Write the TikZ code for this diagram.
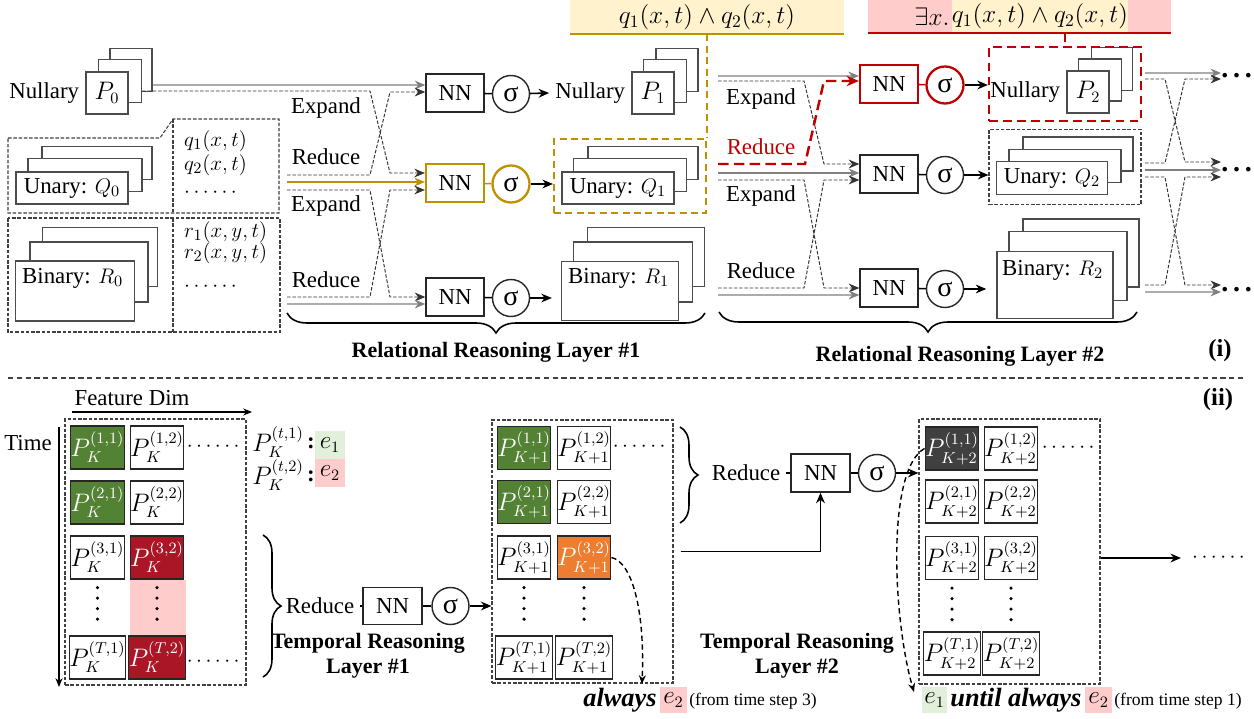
\documentclass[tikz,border=0pt]{standalone}
\usepackage{amsmath,amssymb}
\usepackage{fontspec}
\setmainfont{Liberation Serif}
\usepackage{tikz}
\usetikzlibrary{arrows.meta,decorations.pathreplacing,shapes}
\DeclareMathSizes{15}{15}{9.5}{7}
\definecolor{goldc}{RGB}{191,144,0}
\definecolor{yellowbg}{RGB}{255,242,204}
\definecolor{redc}{RGB}{192,0,0}
\definecolor{pinkbg}{RGB}{255,204,204}
\definecolor{greenc}{RGB}{84,130,53}
\definecolor{greenbg}{RGB}{226,239,218}
\definecolor{darkred}{RGB}{170,22,38}
\definecolor{orangec}{RGB}{237,125,49}
\definecolor{darkgrayc}{RGB}{64,64,64}

\begin{document}
\begin{tikzpicture}[x=0.02cm,y=-0.02cm,font=\fontsize{13}{15}\selectfont,
  sz/.style 2 args={minimum width=#1*0.02cm,minimum height=#2*0.02cm}]
  \tikzstyle{stk}   =[draw=black!70,fill=white,line width=0.8pt,inner sep=0pt]
  \tikzstyle{nn}    =[draw=black!85,line width=0.8pt,inner sep=0pt,sz={58}{38}]
  \tikzstyle{sig}   =[draw=black!85,circle,line width=0.8pt,sz={37}{37},inner sep=0pt,font=\fontsize{16}{16}\selectfont]
  \tikzstyle{frame} =[draw=black!75,line width=0.6pt,dash pattern=on 2pt off 1pt]
  \tikzstyle{sline} =[draw=black!50,line width=0.7pt,-{Stealth[length=6pt,width=5pt]}]
  \tikzstyle{dline} =[draw=black!80,line width=0.55pt,dash pattern=on 2pt off 1pt,-{Stealth[length=6pt,width=5pt]}]
  \tikzstyle{link}  =[draw=black,line width=0.9pt]
  \tikzstyle{arr}   =[draw=black,line width=0.9pt,-{Stealth[length=6pt,width=5pt]}]
  \tikzstyle{brc}   =[draw=black,line width=0.9pt,decorate,decoration={brace,amplitude=0.4cm}]
  \tikzstyle{cell}  =[draw=black!85,line width=0.7pt,sz={50}{43},inner sep=0pt,font=\fontsize{15}{15}\selectfont]
  \tikzstyle{vdot}  =[line width=2pt,line cap=round,dash pattern=on 0pt off 6pt,shorten <=0.16cm,shorten >=0.12cm]
  \tikzstyle{ttl}   =[font=\fontsize{12.5}{14.2}\selectfont\bfseries,align=center]
  \tikzstyle{dcurve}=[draw=black,line width=0.8pt,dash pattern=on 3pt off 2pt,-{Stealth[length=5pt,width=4pt]}]
  \tikzstyle{bi}    =[anchor=west,inner sep=0pt,font=\fontsize{15}{15}\selectfont\bfseries\itshape]
  \tikzstyle{more}  =[anchor=west,inner sep=0pt,font=\fontsize{16}{16}\selectfont\bfseries]
  \tikzstyle{big}   =[font=\fontsize{15}{15}\selectfont]
  \tikzstyle{note}  =[inner sep=0pt,font=\fontsize{14}{15}\selectfont]
  \useasboundingbox (0,0) rectangle (1254,719);

  % (i) relational reasoning, layer-1 inputs
  \node[stk,sz={42}{43}] (P0c) at (131,70) {};
  \node[stk,sz={43}{43}] (P0b) at (120,81) {};
  \node[stk,sz={42}{42},big] (P0) at (107,93) {$P_0$};
  \node[anchor=east] (N0) at (P0.west) {Nullary};
  \node[stk,sz={110}{33}] (Q0c) at (97,163) {};
  \node[stk,sz={114}{33}] (Q0b) at (85,175) {};
  \node[stk,sz={112}{32}] (Q0) at (72,188) {Unary: $Q_0$};
  \node[stk,sz={115}{59}] (R0c) at (100,257) {};
  \node[stk,sz={118}{60}] (R0b) at (89,272) {};
  \node[stk,sz={119}{60}] (R0) at (75,291) {};
  \node[anchor=west] (R0t) at (16,278) {Binary: $R_0$};
  \draw[frame] (8,138) -- (160,138) -- (173,119) -- (279,119) -- (279,213) -- (8,213) -- cycle;
  \draw[frame] (173,119) -- (173,213);
  \draw[frame] (8,218) rectangle (280,332);
  \draw[frame] (173,218) -- (173,332);
  \node[anchor=west] (q1) at (178,141) {$q_1(x,t)$};
  \node[anchor=west] (q2) at (178,165) {$q_2(x,t)$};
  \node[anchor=west] (qd) at (178,193) {$\cdots\cdots$};
  \node[anchor=west] (r1) at (178,232) {$r_1(x,y,t)$};
  \node[anchor=west] (r2) at (178,253) {$r_2(x,y,t)$};
  \node[anchor=west] (rd) at (178,287) {$\cdots\cdots$};

  % layer 1
  \node[nn] (NN1a) at (455,93) {NN};
  \node[sig] (S1a) at (511,94) {σ};
  \node[nn,draw=goldc,line width=1.3pt] (NN1b) at (455,183) {NN};
  \node[sig,draw=goldc,line width=1.3pt] (S1b) at (511,184) {σ};
  \node[nn] (NN1c) at (455,297) {NN};
  \node[sig] (S1c) at (511,298) {σ};
  \draw[link] (NN1a) -- (S1a);
  \draw[link,draw=goldc] (NN1b) -- (S1b);
  \draw[link] (NN1c) -- (S1c);
  \node (ex1) at (326,108) {Expand};
  \node (re1) at (326,157) {Reduce};
  \node (ex2) at (326,206) {Expand};
  \node (re2) at (326,280) {Reduce};
  \coordinate (c1) at (287,175);
  \coordinate (c2) at (287,182);
  \coordinate (c3) at (287,190);
  \coordinate (c4) at (287,297);
  \coordinate (c5) at (287,304);
  \draw[sline] ([yshift=-0.3cm]P0c.east) -- ([yshift=0.16cm]NN1a.west);
  \draw[dline] ([yshift=-0.2cm]P0b.east) -- (370,91) -- (390,173) -- ([yshift=0.2cm]NN1b.west);
  \draw[dline] (c1) -- (370,175) -- (390,92) -- ([yshift=0.02cm]NN1a.west);
  \draw[goldc,line width=1.5pt,-{Stealth[length=6pt,width=5pt]}] (c2) -- ([yshift=0.02cm]NN1b.west);
  \draw[dline] (c3) -- (370,190) -- (390,297) -- (NN1c.west);
  \draw[dline] (c4) -- (370,297) -- (390,190) -- ([yshift=-0.14cm]NN1b.west);
  \draw[sline] (c5) -- ([yshift=-0.14cm]NN1c.west);

  % layer-1 outputs
  \node[stk,sz={42}{43}] (P1c) at (677,70) {};
  \node[stk,sz={43}{43}] (P1b) at (665,81) {};
  \node[stk,sz={42}{42},big] (P1) at (653,93) {$P_1$};
  \node[anchor=east] (N1) at (P1.west) {Nullary};
  \node[stk,sz={110}{33}] (Q1c) at (643,163) {};
  \node[stk,sz={113}{33}] (Q1b) at (630,175) {};
  \node[stk,sz={112}{32}] (Q1) at (618,188) {Unary: $Q_1$};
  \node[draw=goldc,line width=1.2pt,dash pattern=on 4pt off 2.5pt,sz={152}{74},inner sep=0pt] (G1) at (630,176) {};
  \node[stk,sz={117}{59}] (R1c) at (646,257) {};
  \node[stk,sz={119}{60}] (R1b) at (633,272) {};
  \node[stk,sz={117}{59}] (R1) at (620,291) {};
  \node[anchor=west] (R1t) at (562,278) {Binary: $R_1$};
  \draw[arr] (S1a) -- (N1.west);
  \draw[arr] (S1b) -- (S1b -| G1.west);
  \draw[arr,shorten >=0.18cm] (S1c) -- (S1c -| R1.west);
  \draw[brc] (705,313) -- (287,313);
  \node[ttl] (L1) at (496,352) {Relational Reasoning Layer \#1};

  % gold annotation
  \node[note,fill=yellowbg,sz={274}{34}] (A1) at (707,17) {$q_1(x,t)\wedge q_2(x,t)$};
  \draw[goldc,line width=1pt] (A1.south west) -- (A1.south east);
  \draw[goldc,line width=1.2pt,dash pattern=on 4pt off 2.5pt] (A1.south -| G1.east) -- (G1.north east);

  % layer 2
  \node[nn,draw=redc,line width=1.3pt] (NN2a) at (889,84) {NN};
  \node[sig,draw=redc,line width=1.3pt] (S2a) at (945,85) {σ};
  \node[nn] (NN2b) at (889,174) {NN};
  \node[sig] (S2b) at (945,175) {σ};
  \node[nn] (NN2c) at (889,288) {NN};
  \node[sig] (S2c) at (945,289) {σ};
  \draw[link,draw=redc] (NN2a) -- (S2a);
  \draw[link] (NN2b) -- (S2b);
  \draw[link] (NN2c) -- (S2c);
  \node (ex3) at (761,99) {Expand};
  \node[text=redc] (re3) at (761,147) {Reduce};
  \node (ex4) at (761,196) {Expand};
  \node (re4) at (761,271) {Reduce};
  \coordinate (d1) at (718,76);
  \coordinate (d2) at (718,81);
  \coordinate (d3) at (718,164);
  \coordinate (d4) at (718,173);
  \coordinate (d5) at (718,180);
  \coordinate (d6) at (718,288);
  \coordinate (d7) at (718,295);
  \draw[sline] (d1) -- ([yshift=0.16cm]NN2a.west);
  \draw[dline] (d2) -- (804,81) -- (824,164) -- ([yshift=0.2cm]NN2b.west);
  \draw[redc,line width=1.4pt,dash pattern=on 6pt off 3pt,-{Stealth[length=7pt,width=6pt]}] (d3) -- (805,164) -- (824,81) -- ([yshift=0.06cm]NN2a.west);
  \draw[sline] (d4) -- ([yshift=0.02cm]NN2b.west);
  \draw[dline] (d5) -- (804,180) -- (824,288) -- (NN2c.west);
  \draw[dline] (d6) -- (804,288) -- (824,180) -- ([yshift=-0.12cm]NN2b.west);
  \draw[sline] (d7) -- ([yshift=-0.14cm]NN2c.west);

  % layer-2 outputs
  \node[stk,sz={41}{43}] (P2c) at (1112,69) {};
  \node[stk,sz={43}{42}] (P2b) at (1100,80) {};
  \node[stk,sz={42}{42},big] (P2) at (1088,92) {$P_2$};
  \node[anchor=east] (N2) at (P2.west) {Nullary};
  \node[draw=redc,line width=1.3pt,dash pattern=on 5pt off 3pt,sz={152}{74},inner sep=0pt] (RB) at (1065,84) {};
  \node[stk,sz={110}{34}] (Q2c) at (1078,154) {};
  \node[stk,sz={112}{33}] (Q2b) at (1065,166) {};
  \node[stk,sz={111}{33}] (Q2) at (1052,178) {Unary: $Q_2$};
  \node[frame,sz={152}{75},inner sep=0pt] (GB) at (1065,167) {};
  \node[stk,sz={116}{68}] (R2c) at (1081,253) {};
  \node[stk,sz={118}{69}] (R2b) at (1068,266) {};
  \node[stk,sz={116}{67}] (R2) at (1055,285) {};
  \node[anchor=west] (R2t) at (996,270) {Binary: $R_2$};
  \draw[arr] (S2a) -- (S2a -| RB.west);
  \draw[arr] (S2b) -- (S2b -| GB.west);
  \draw[arr,shorten >=0.2cm] (S2c) -- (S2c -| R2.west);
  \draw[brc] (1137,312) -- (719,312);
  \node[ttl] (L2) at (960,356) {Relational Reasoning Layer \#2};

  % red annotation
  \node[fill=pinkbg,sz={303}{33},inner sep=0pt] (A2) at (1019.5,16.5) {};
  \node[note,fill=yellowbg,sz={166}{33}] (A2q) at (1040,16.5) {$q_1(x,t)\wedge q_2(x,t)$};
  \node[note,anchor=east,inner sep=1pt] (A2e) at (A2q.west) {$\exists x.$};
  \draw[redc,line width=1pt] (A2.south west) -- (A2.south east);
  \draw[redc,line width=1.3pt,dash pattern=on 5pt off 3pt] (A2.south -| RB.north) -- (RB.north);

  % towards the next layer
  \node[more] (D1) at (1221,76) {.\,.\,.};
  \node[more] (D2) at (1221,170) {.\,.\,.};
  \node[more] (D3) at (1221,290) {.\,.\,.};
  \coordinate (e1) at (1145,73);
  \coordinate (e2) at (1145,79);
  \coordinate (e3) at (1145,163);
  \coordinate (e4) at (1145,170);
  \coordinate (e5) at (1145,177);
  \coordinate (e6) at (1145,285);
  \coordinate (e7) at (1145,292);
  \draw[sline] (e1) -- ([yshift=0.06cm]D1.west);
  \draw[dline] (e2) -- (1165,79) -- (1185,162) -- ([yshift=0.16cm]D2.west);
  \draw[dline] (e3) -- (1165,163) -- (1185,79) -- ([yshift=-0.06cm]D1.west);
  \draw[sline] (e4) -- (D2.west);
  \draw[dline] (e5) -- (1165,177) -- (1185,285) -- ([yshift=0.1cm]D3.west);
  \draw[dline] (e6) -- (1165,285) -- (1185,177) -- ([yshift=-0.14cm]D2.west);
  \draw[sline] (e7) -- ([yshift=-0.04cm]D3.west);
  \node[font=\fontsize{14}{14}\selectfont\bfseries] (Ti) at (1220,351) {(i)};

  \draw[black!75,line width=0.6pt,dash pattern=on 3pt off 2pt] (8,378) -- (1246,378);
  \node[font=\fontsize{14}{14}\selectfont\bfseries] (Tii) at (1218,400) {(ii)};

  % (ii) temporal reasoning, predicates at step K
  \node (FD) at (132,398) {Feature Dim};
  \coordinate (fd0) at (72,412);
  \coordinate (fd1) at (252,412);
  \draw[line width=0.6pt,-{Stealth[length=5pt,width=4pt]}] (fd0) -- (fd1);
  \node (TM) at (28,443) {Time};
  \coordinate (tm0) at (59,427);
  \coordinate (tm1) at (59,687);
  \draw[line width=0.6pt,-{Stealth[length=5pt,width=4pt]}] (tm0) -- (tm1);
  \node[frame,sz={181}{266},inner sep=0pt] (FA) at (155.5,552) {};
  \node[cell,fill=greenc,text=white] (A11) at (97.5,447.5) {$P_K^{(1,1)}$};
  \node[cell] (A12) at (157,447.5) {$P_K^{(1,2)}$};
  \node[cell,fill=greenc,text=white] (A21) at (97.5,502.5) {$P_K^{(2,1)}$};
  \node[cell] (A22) at (157,502.5) {$P_K^{(2,2)}$};
  \node[cell] (A31) at (97.5,557.5) {$P_K^{(3,1)}$};
  \node[cell,fill=darkred,text=white] (A32) at (157,557.5) {$P_K^{(3,2)}$};
  \node[cell] (AT1) at (97.5,657.5) {$P_K^{(T,1)}$};
  \node[cell,fill=darkred,text=white] (AT2) at (157,657.5) {$P_K^{(T,2)}$};
  \fill[pinkbg] (A32.south west) rectangle (AT2.north east);
  \draw[vdot] (A31.south) -- (AT1.north);
  \draw[vdot] (A32.south) -- (AT2.north);
  \node (Ad1) at (215,447) {$\cdots\cdots$};
  \node (Ad2) at (215,662) {$\cdots\cdots$};
  \node[big] (LG1) at (278,442) {$P_K^{(t,1)}$};
  \node[big] (LG2) at (278,475) {$P_K^{(t,2)}$};
  \node (LC1) at (311,443) {\textbf{:}};
  \node (LC2) at (311,476) {\textbf{:}};
  \node[fill=greenbg,sz={30}{28},inner sep=0pt,big] (LE1) at (330,445) {$e_1$};
  \node[fill=pinkbg,sz={30}{28},inner sep=0pt,big] (LE2) at (330,473) {$e_2$};

  % temporal layer 1
  \draw[brc,decoration={brace,amplitude=0.36cm}] (263,535) -- (263,677);
  \node (RD1) at (320,606) {Reduce};
  \node[nn,sz={59}{37}] (NN3) at (392.5,606) {NN};
  \node[sig] (S3) at (450.5,606) {σ};
  \draw[link] (RD1) -- (NN3);
  \draw[link] (NN3) -- (S3);
  \node[ttl] (TL1) at (368,656) {Temporal Reasoning\\Layer \#1};

  % predicates at step K+1
  \node[frame,sz={181}{263},inner sep=0pt] (FB) at (582.5,551.5) {};
  \draw[arr] (S3) -- (S3 -| FB.west);
  \node[cell,fill=greenc,text=white] (B11) at (524,448) {$P_{K+1}^{(1,1)}$};
  \node[cell] (B12) at (584,448) {$P_{K+1}^{(1,2)}$};
  \node[cell,fill=greenc,text=white] (B21) at (524,502) {$P_{K+1}^{(2,1)}$};
  \node[cell] (B22) at (584,502) {$P_{K+1}^{(2,2)}$};
  \node[cell] (B31) at (524,557.5) {$P_{K+1}^{(3,1)}$};
  \node[cell,fill=orangec,text=white] (B32) at (584,557.5) {$P_{K+1}^{(3,2)}$};
  \node[cell] (BT1) at (524,657.5) {$P_{K+1}^{(T,1)}$};
  \node[cell] (BT2) at (584,657.5) {$P_{K+1}^{(T,2)}$};
  \draw[vdot] (B31.south) -- (BT1.north);
  \draw[vdot] (B32.south) -- (BT2.north);
  \node (Bd1) at (641,447) {$\cdots\cdots$};

  % temporal layer 2
  \draw[brc,decoration={brace,amplitude=0.36cm}] (680,427) -- (680,523);
  \node (RD2) at (746,473) {Reduce};
  \node[nn,sz={59}{38}] (NN4) at (820.5,473) {NN};
  \node[sig] (S4) at (877,473) {σ};
  \draw[link] (RD2) -- (NN4);
  \draw[link] (NN4) -- (S4);
  \draw[arr] ([xshift=0.14cm]FB.east) -| (NN4.south);
  \node[ttl] (TL2) at (797,656) {Temporal Reasoning\\Layer \#2};

  % predicates at step K+2
  \node[frame,sz={181}{265},inner sep=0pt] (FC) at (1009.5,551.5) {};
  \draw[arr] (S4) -- (S4 -| FC.west);
  \node[cell,fill=darkgrayc,text=white] (C11) at (952,448.5) {$P_{K+2}^{(1,1)}$};
  \node[cell] (C12) at (1011,448.5) {$P_{K+2}^{(1,2)}$};
  \node[cell] (C21) at (952,501.5) {$P_{K+2}^{(2,1)}$};
  \node[cell] (C22) at (1011,501.5) {$P_{K+2}^{(2,2)}$};
  \node[cell] (C31) at (952,558) {$P_{K+2}^{(3,1)}$};
  \node[cell] (C32) at (1011,558) {$P_{K+2}^{(3,2)}$};
  \node[cell] (CT1) at (952,653.5) {$P_{K+2}^{(T,1)}$};
  \node[cell] (CT2) at (1011,653.5) {$P_{K+2}^{(T,2)}$};
  \draw[vdot] (C31.south) -- (CT1.north);
  \draw[vdot] (C32.south) -- (CT2.north);
  \node (Cd1) at (1070,448) {$\cdots\cdots$};
  \node[anchor=west] (Cd2) at (1186,558) {$\cdots\cdots$};
  \draw[arr,shorten >=0.1cm] (Cd2.west -| FC.east) -- (Cd2.west);

  % temporal formulas found
  \node[bi] (AW) at (583,700) {always};
  \node[fill=pinkbg,sz={27}{26},inner sep=0pt,big] (AE) at (673.5,700) {$e_2$};
  \node[anchor=west,inner sep=0pt,font=\fontsize{10}{12}\selectfont] (AF) at (689,701) {(from time step 3)};
  \node[fill=greenbg,sz={25}{26},inner sep=0pt,big] (UE1) at (934.5,700) {$e_1$};
  \node[bi] (UW) at (950,700) {until always};
  \node[fill=pinkbg,sz={27}{26},inner sep=0pt,big] (UE2) at (1098.5,700) {$e_2$};
  \node[anchor=west,inner sep=0pt,font=\fontsize{10}{12}\selectfont] (UF) at (1114,701) {(from time step 1)};
  \coordinate (al0) at (642,684);
  \coordinate (un0) at (914,692);
  \draw[dcurve] (B32.east) .. controls (632,562) and (645,610) .. (al0);
  \draw[dcurve] (C11.west) .. controls (886,470) and (893,620) .. (un0);
\end{tikzpicture}
\end{document}
